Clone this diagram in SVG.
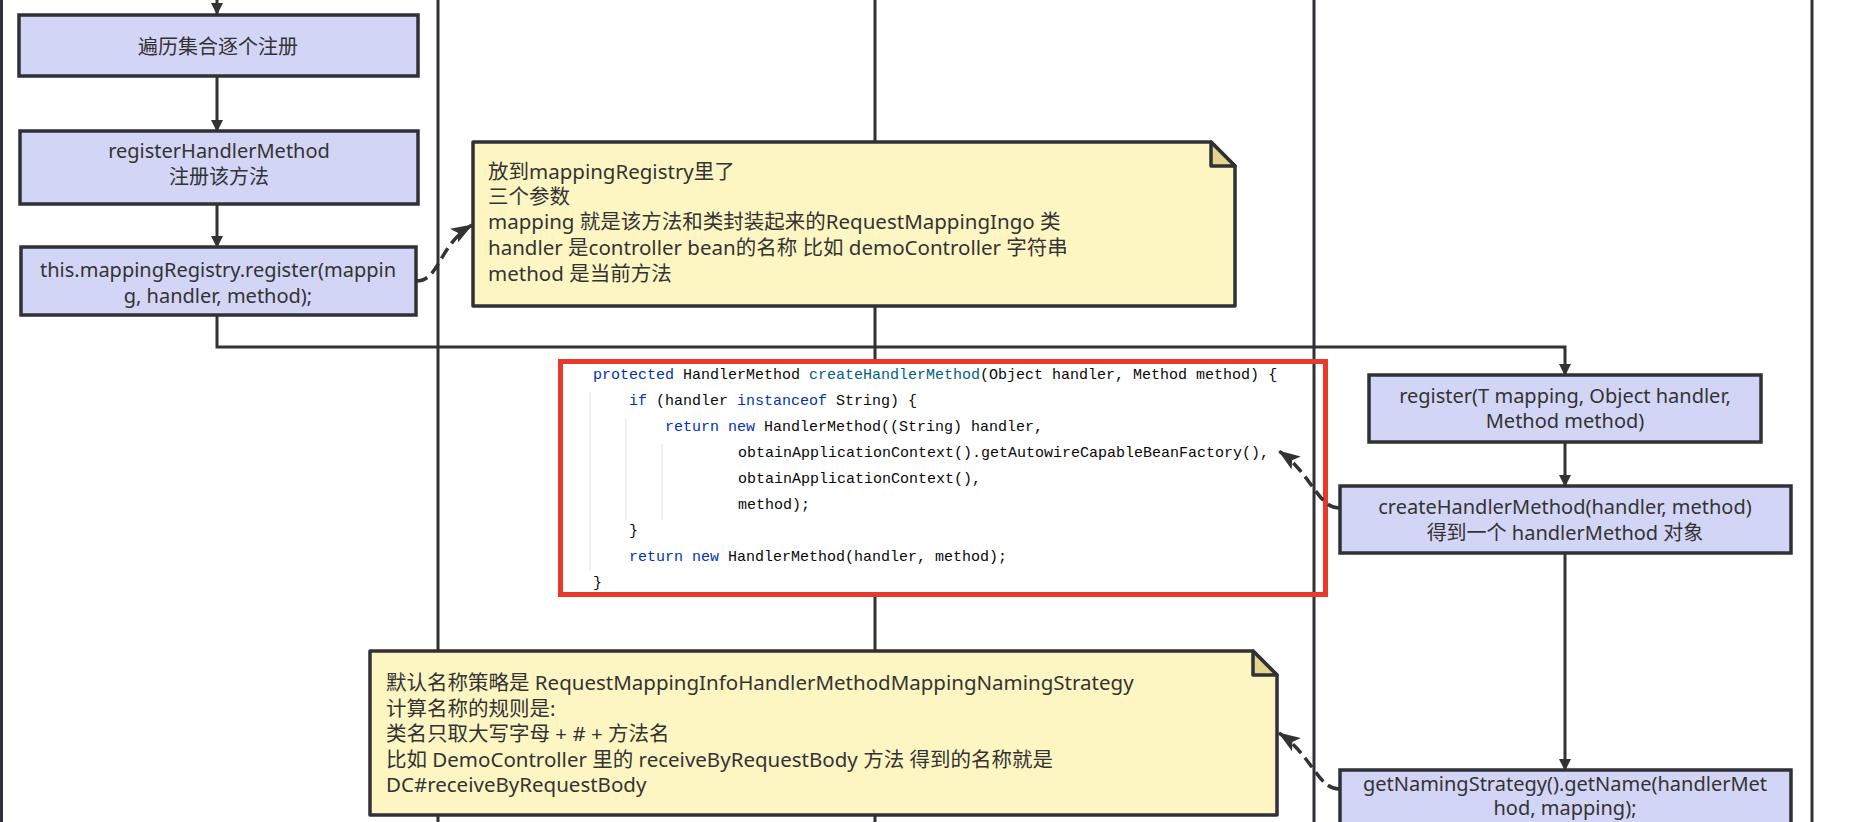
<svg xmlns="http://www.w3.org/2000/svg" width="1862" height="822" viewBox="0 0 1862 822">
<defs>
<style>
.lane{stroke:#2f3136;stroke-width:3;fill:none}
.box{fill:#d3d5f6;stroke:#2f3136;stroke-width:3.5}
.note{fill:#fdf6c3;stroke:#2f3136;stroke-width:3.5;stroke-linejoin:round}
.fold{fill:#e3d48e;stroke:#2f3136;stroke-width:3.5;stroke-linejoin:round}
.t{font-family:"Noto Sans","Noto Sans CJK SC",sans-serif;font-size:20px;fill:#333;text-anchor:middle}
.nt{font-family:"Noto Sans","Noto Sans CJK SC",sans-serif;font-size:20.5px;fill:#333}
.edge{stroke:#333;stroke-width:3;fill:none}
.dash{stroke:#333;stroke-width:3.5;fill:none;stroke-dasharray:12 6}
.code{font-family:"Liberation Mono",monospace;font-size:15px;fill:#080808;white-space:pre}
.kw{fill:#0033b3}
.fn{fill:#00627a}
.guide{stroke:#e6e6e6;stroke-width:1.2}
</style>
<marker id="ah" viewBox="0 0 12 12" refX="11" refY="6" markerWidth="12" markerHeight="12" markerUnits="userSpaceOnUse" orient="auto">
<path d="M0,0 L12,6 L0,12 Z" fill="#333"/>
</marker>
<marker id="ahd" viewBox="0 0 22 16" refX="21" refY="8" markerWidth="22" markerHeight="16" markerUnits="userSpaceOnUse" orient="auto">
<path d="M0,0 L22,8 L0,16 L5,8 Z" fill="#333"/>
</marker>
</defs>
<rect width="1862" height="822" fill="#ffffff"/>
<g id="lanes">
<line class="lane" x1="1.5" y1="0" x2="1.5" y2="822"/>
<line class="lane" x1="438" y1="0" x2="438" y2="822"/>
<line class="lane" x1="875" y1="0" x2="875" y2="822"/>
<line class="lane" x1="1314" y1="0" x2="1314" y2="822"/>
<line class="lane" x1="1812" y1="0" x2="1812" y2="822"/>
</g>
<g id="code-snippet">
<rect x="562" y="362" width="747" height="232" fill="#ffffff"/>
<line class="guide" x1="590" y1="392" x2="590" y2="570"/>
<line class="guide" x1="626" y1="418" x2="626" y2="520"/>
<line class="guide" x1="662" y1="444" x2="662" y2="520"/>
<text class="code" x="593" y="379"><tspan class="kw">protected</tspan> HandlerMethod <tspan class="fn">createHandlerMethod</tspan>(Object handler, Method method) {</text>
<text class="code" x="629" y="405"><tspan class="kw">if</tspan> (handler <tspan class="kw">instanceof</tspan> String) {</text>
<text class="code" x="665" y="431"><tspan class="kw">return new</tspan> HandlerMethod((String) handler,</text>
<text class="code" x="738" y="457">obtainApplicationContext().getAutowireCapableBeanFactory(),</text>
<text class="code" x="738" y="483">obtainApplicationContext(),</text>
<text class="code" x="738" y="509">method);</text>
<text class="code" x="629" y="535">}</text>
<text class="code" x="629" y="561"><tspan class="kw">return new</tspan> HandlerMethod(handler, method);</text>
<text class="code" x="593" y="587">}</text>
<rect x="560.5" y="361.5" width="765" height="233" fill="none" stroke="#e8392b" stroke-width="5"/>
</g>
<g id="connectors">
<line class="edge" x1="217" y1="0" x2="217" y2="14" marker-end="url(#ah)"/>
<line class="edge" x1="217" y1="76" x2="217" y2="131" marker-end="url(#ah)"/>
<line class="edge" x1="217" y1="204" x2="217" y2="247" marker-end="url(#ah)"/>
<path class="edge" d="M217,315 V347 H1565 V375" marker-end="url(#ah)"/>
<line class="edge" x1="1565" y1="442" x2="1565" y2="486" marker-end="url(#ah)"/>
<line class="edge" x1="1565" y1="553" x2="1565" y2="770" marker-end="url(#ah)"/>
<path class="dash" d="M416,281 C440,281 438,245 472,225" marker-end="url(#ahd)"/>
<path class="dash" d="M1339,508 C1318,508 1312,474 1279,451" marker-end="url(#ahd)"/>
<path class="dash" d="M1339,789 C1318,789 1312,755 1279,733" marker-end="url(#ahd)"/>
</g>
<g id="n1">
<rect class="box" x="19" y="15" width="399" height="61"/>
<text class="t" x="218" y="54">遍历集合逐个注册</text>
</g>
<g id="n2">
<rect class="box" x="20" y="131" width="398" height="73"/>
<text class="t" x="219" y="158">registerHandlerMethod</text>
<text class="t" x="219" y="184">注册该方法</text>
</g>
<g id="n3">
<rect class="box" x="21" y="247" width="395" height="68"/>
<text class="t" x="218" y="277">this.mappingRegistry.register(mappin</text>
<text class="t" x="218" y="303">g, handler, method);</text>
</g>
<g id="note1">
<path class="note" d="M473,142 H1211 L1235,166 V306 H473 Z"/>
<path class="fold" d="M1211,142 V166 H1235 Z"/>
<text class="nt" x="488" y="179">放到mappingRegistry里了</text>
<text class="nt" x="488" y="204">三个参数</text>
<text class="nt" x="488" y="229">mapping 就是该方法和类封装起来的RequestMappingIngo 类</text>
<text class="nt" x="488" y="255">handler 是controller bean的名称 比如 demoController 字符串</text>
<text class="nt" x="488" y="281">method 是当前方法</text>
</g>
<g id="n4">
<rect class="box" x="1369" y="375" width="392" height="67"/>
<text class="t" x="1565" y="403">register(T mapping, Object handler,</text>
<text class="t" x="1565" y="428">Method method)</text>
</g>
<g id="n5">
<rect class="box" x="1340" y="486" width="451" height="67"/>
<text class="t" x="1565" y="514">createHandlerMethod(handler, method)</text>
<text class="t" x="1565" y="540">得到一个 handlerMethod 对象</text>
</g>
<g id="note2">
<path class="note" d="M370,651 H1253 L1277,675 V815 H370 Z"/>
<path class="fold" d="M1253,651 V675 H1277 Z"/>
<text class="nt" x="386" y="690">默认名称策略是 RequestMappingInfoHandlerMethodMappingNamingStrategy</text>
<text class="nt" x="386" y="716">计算名称的规则是:</text>
<text class="nt" x="386" y="741">类名只取大写字母 + # + 方法名</text>
<text class="nt" x="386" y="767">比如 DemoController 里的 receiveByRequestBody 方法 得到的名称就是</text>
<text class="nt" x="386" y="792">DC#receiveByRequestBody</text>
</g>
<g id="n6">
<rect class="box" x="1340" y="770" width="451" height="70"/>
<text class="t" x="1565" y="791" font-size="19.5">getNamingStrategy().getName(handlerMet</text>
<text class="t" x="1565" y="815" font-size="19.5">hod, mapping);</text>
</g>
</svg>
